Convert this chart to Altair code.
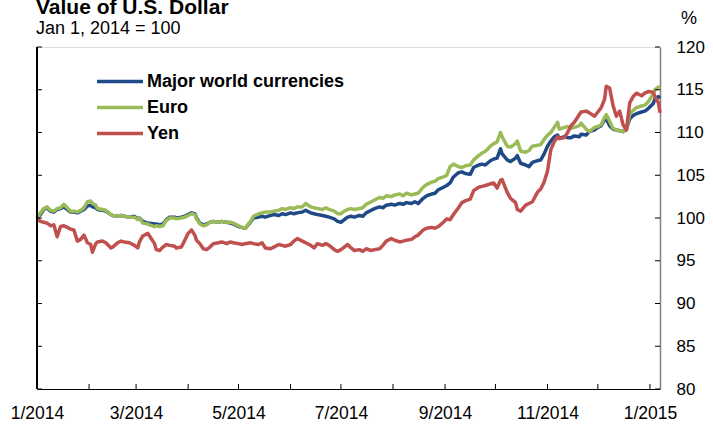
import altair as alt
import pandas as pd

dates = [
    "2014-01-01", "2014-01-03", "2014-01-05", "2014-01-07", "2014-01-09", "2014-01-11", "2014-01-13", "2014-01-15",
    "2014-01-17", "2014-01-19", "2014-01-21", "2014-01-23", "2014-01-25", "2014-01-27", "2014-01-29", "2014-01-31",
    "2014-02-02", "2014-02-03", "2014-02-05", "2014-02-06", "2014-02-09", "2014-02-11", "2014-02-14", "2014-02-15",
    "2014-02-18", "2014-02-20", "2014-02-22", "2014-02-25", "2014-02-28", "2014-03-02", "2014-03-03", "2014-03-05",
    "2014-03-08", "2014-03-09", "2014-03-12", "2014-03-13", "2014-03-15", "2014-03-17", "2014-03-19", "2014-03-21",
    "2014-03-24", "2014-03-25", "2014-03-28", "2014-03-30", "2014-04-01", "2014-04-03", "2014-04-05", "2014-04-06",
    "2014-04-08", "2014-04-10", "2014-04-12", "2014-04-14", "2014-04-16", "2014-04-19", "2014-04-21", "2014-04-24",
    "2014-04-26", "2014-04-28", "2014-05-01", "2014-05-03", "2014-05-05", "2014-05-08", "2014-05-10", "2014-05-13",
    "2014-05-15", "2014-05-17", "2014-05-20", "2014-05-22", "2014-05-25", "2014-05-27", "2014-05-29", "2014-06-01",
    "2014-06-03", "2014-06-05", "2014-06-08", "2014-06-10", "2014-06-13", "2014-06-15", "2014-06-17", "2014-06-20",
    "2014-06-22", "2014-06-24", "2014-06-27", "2014-06-29", "2014-07-01", "2014-07-03", "2014-07-05", "2014-07-07",
    "2014-07-09", "2014-07-12", "2014-07-14", "2014-07-16", "2014-07-19", "2014-07-21", "2014-07-24", "2014-07-26",
    "2014-07-28", "2014-07-31", "2014-08-02", "2014-08-05", "2014-08-07", "2014-08-09", "2014-08-12", "2014-08-14",
    "2014-08-16", "2014-08-19", "2014-08-21", "2014-08-24", "2014-08-26", "2014-08-28", "2014-08-31", "2014-09-02",
    "2014-09-04", "2014-09-06", "2014-09-09", "2014-09-11", "2014-09-13", "2014-09-16", "2014-09-18", "2014-09-21",
    "2014-09-23", "2014-09-25", "2014-09-28", "2014-09-30", "2014-10-02", "2014-10-04", "2014-10-05", "2014-10-08",
    "2014-10-10", "2014-10-13", "2014-10-14", "2014-10-16", "2014-10-19", "2014-10-21", "2014-10-23", "2014-10-26",
    "2014-10-28", "2014-10-30", "2014-11-01", "2014-11-03", "2014-11-05", "2014-11-07", "2014-11-08", "2014-11-11",
    "2014-11-13", "2014-11-15", "2014-11-17", "2014-11-20", "2014-11-21", "2014-11-24", "2014-11-26", "2014-11-29",
    "2014-12-01", "2014-12-03", "2014-12-05", "2014-12-06", "2014-12-08", "2014-12-10", "2014-12-12", "2014-12-14",
    "2014-12-16", "2014-12-18", "2014-12-20", "2014-12-22", "2014-12-24", "2014-12-27", "2014-12-29", "2014-12-31",
    "2015-01-03", "2015-01-04", "2015-01-06", "2015-01-07",
]

major = [
    100.0, 100.4, 101.0, 101.2, 100.8, 100.7, 101.0, 101.1, 101.3, 101.0, 100.7, 100.7, 100.6, 100.8, 101.0, 101.4,
    101.5, 101.3, 101.2, 101.0, 100.9, 100.8, 100.4, 100.3, 100.2, 100.3, 100.2, 100.1, 100.2, 99.9, 100.0, 99.6,
    99.4, 99.4, 99.3, 99.3, 99.2, 99.3, 99.8, 100.1, 100.1, 100.0, 100.1, 100.2, 100.4, 100.6, 100.5, 100.0,
    99.4, 99.2, 99.3, 99.5, 99.6, 99.5, 99.6, 99.5, 99.4, 99.3, 99.0, 98.9, 98.8, 99.5, 100.0, 100.1,
    100.2, 100.1, 100.3, 100.4, 100.3, 100.5, 100.4, 100.6, 100.5, 100.6, 100.7, 100.9, 100.6, 100.5, 100.4, 100.3,
    100.2, 100.1, 99.9, 99.6, 99.5, 99.8, 100.1, 100.2, 100.1, 100.3, 100.2, 100.6, 100.9, 101.1, 101.3, 101.2,
    101.5, 101.6, 101.5, 101.7, 101.6, 101.8, 101.7, 101.9, 101.7, 102.3, 102.6, 102.8, 102.9, 103.3, 103.6, 103.8,
    104.1, 104.8, 105.3, 105.4, 105.2, 105.1, 105.9, 106.2, 106.3, 106.2, 106.7, 106.9, 107.0, 108.1, 107.5, 106.8,
    106.6, 107.0, 107.3, 106.4, 106.2, 106.0, 106.5, 106.7, 106.8, 107.5, 108.4, 109.0, 109.5, 109.7, 109.3, 109.5,
    109.4, 109.4, 109.6, 109.5, 109.8, 109.7, 110.1, 110.3, 110.6, 110.8, 111.5, 111.6, 110.8, 110.4, 110.3, 110.2,
    110.1, 110.4, 111.6, 112.0, 112.2, 112.4, 112.5, 112.8, 113.4, 113.9, 114.2, 114.0,
]

euro = [
    100.0, 100.6, 101.1, 101.3, 100.9, 100.8, 101.1, 101.2, 101.6, 101.2, 100.8, 100.8, 100.7, 100.9, 101.2, 101.9,
    102.0, 101.7, 101.5, 101.1, 101.0, 100.9, 100.4, 100.3, 100.2, 100.3, 100.2, 100.1, 100.1, 99.8, 100.0, 99.4,
    99.3, 99.2, 99.0, 99.1, 99.0, 99.1, 99.7, 100.0, 100.0, 99.9, 100.0, 100.1, 100.3, 100.5, 100.4, 99.9,
    99.3, 99.1, 99.2, 99.5, 99.6, 99.5, 99.6, 99.5, 99.5, 99.4, 99.1, 98.9, 98.8, 99.6, 100.2, 100.5,
    100.6, 100.7, 100.7, 100.8, 100.9, 101.1, 101.0, 101.2, 101.1, 101.3, 101.3, 101.7, 101.3, 101.2, 101.1, 101.0,
    101.2, 101.0, 100.8, 100.5, 100.5, 100.8, 101.0, 101.1, 101.0, 101.1, 101.2, 101.6, 101.9, 102.1, 102.4, 102.3,
    102.6, 102.5, 102.7, 102.8, 102.6, 102.9, 102.7, 102.8, 102.9, 103.6, 103.9, 104.2, 104.3, 104.6, 104.8, 105.0,
    106.0, 106.3, 106.0, 105.9, 106.1, 106.2, 106.8, 107.3, 107.6, 107.8, 108.4, 108.7, 108.9, 110.0, 109.5, 108.4,
    108.3, 108.7, 109.0, 107.8, 107.7, 107.9, 108.4, 108.5, 108.6, 109.2, 109.7, 110.0, 110.6, 111.2, 110.4, 110.6,
    110.7, 110.5, 110.6, 110.8, 111.1, 110.4, 110.1, 110.6, 110.7, 110.9, 111.8, 112.1, 111.3, 110.5, 110.3, 110.2,
    110.1, 110.3, 112.2, 112.6, 112.9, 113.1, 113.2, 113.6, 114.5, 115.0, 115.3, 115.4,
]

yen = [
    100.0, 99.6, 99.5, 99.4, 99.1, 99.2, 97.8, 99.0, 99.1, 98.9, 98.7, 98.6, 97.3, 97.5, 98.0, 97.1,
    96.9, 96.0, 97.0, 97.2, 97.3, 97.1, 96.5, 96.6, 97.1, 97.3, 97.2, 97.1, 96.8, 96.5, 97.2, 97.9,
    98.2, 97.9, 97.0, 96.3, 96.2, 96.6, 96.9, 96.8, 96.7, 96.5, 96.6, 97.4, 98.2, 98.6, 98.0, 97.4,
    97.0, 96.4, 96.3, 96.6, 97.0, 97.1, 97.2, 97.0, 97.2, 97.1, 97.0, 96.9, 97.0, 97.1, 97.0, 96.9,
    97.1, 96.5, 96.4, 96.6, 96.9, 96.8, 96.7, 96.9, 97.3, 97.6, 97.3, 97.1, 96.8, 96.5, 97.0, 96.8,
    97.0, 96.8, 96.3, 96.1, 96.3, 96.6, 96.9, 96.5, 96.2, 96.3, 96.1, 96.4, 96.2, 96.3, 96.4, 96.8,
    97.3, 97.6, 97.4, 97.2, 97.3, 97.4, 97.5, 97.8, 98.0, 98.6, 98.8, 98.9, 98.8, 99.0, 99.5, 99.9,
    99.8, 100.4, 101.2, 101.8, 102.0, 102.2, 103.2, 103.6, 103.7, 103.8, 104.0, 104.1, 103.5, 104.4, 104.5, 103.0,
    102.3, 101.8, 101.0, 100.8, 101.5, 101.7, 101.9, 103.0, 103.4, 104.2, 105.5, 108.0, 108.9, 109.5, 109.3, 109.4,
    110.0, 110.8, 111.2, 112.1, 112.4, 112.5, 112.3, 111.9, 112.4, 112.9, 113.9, 115.4, 115.2, 113.2, 111.9, 112.5,
    110.9, 110.3, 113.5, 114.2, 114.6, 114.3, 114.6, 114.8, 114.7, 114.2, 113.5, 112.3,
]

series_names = ["Major world currencies", "Euro", "Yen"]
series_colors = ["#1F4A87", "#9BBB59", "#C0504D"]
y_ticks = [80, 85, 90, 95, 100, 105, 110, 115, 120]
month_ticks = [(2014, m) for m in range(1, 13)] + [(2015, 1)]

title_text = "Value of U.S. Dollar"
subtitle_text = "Jan 1, 2014 = 100"
unit_text = "%"

W, H = 623, 342
FONT = "Liberation Sans"

rows = []
for name, vals in zip(series_names, [major, euro, yen]):
    for d, v in zip(dates, vals):
        rows.append({"date": d, "series": name, "value": v})
df = pd.DataFrame(rows)

month_df = pd.DataFrame({"date": [f"{y}-{m:02d}-01" for y, m in month_ticks]})
ytick_df = pd.DataFrame({"value": y_ticks})

x_scale = alt.Scale(
    type="utc",
    domain=[alt.DateTime(year=2014, month=1, date=1, utc=True),
            alt.DateTime(year=2015, month=1, date=7, utc=True)],
)
y_scale = alt.Scale(domain=[80, 120], nice=False, zero=False)

x_axis = alt.Axis(
    values=[alt.DateTime(year=y, month=m, date=1, utc=True) for y, m in month_ticks],
    labelExpr="utcmonth(datum.value) % 2 == 0 ? utcFormat(datum.value, '%-m/%Y') : ''",
    ticks=False, tickSize=0, grid=False, labelPadding=15, labelFontSize=17.5,
    labelFont=FONT, labelColor="black", domainColor="black", domainWidth=1,
    labelFlush=False, labelOverlap=False, title=None,
)
y_axis = alt.Axis(
    orient="right", values=y_ticks, ticks=False, tickSize=0, grid=False,
    labelPadding=16, labelFontSize=17, labelFont=FONT, labelColor="black",
    domainColor="#808080", domainWidth=1.5, title=None,
)

lines = alt.Chart(df).mark_line(strokeWidth=3.5, strokeJoin="round").encode(
    x=alt.X("date:T", scale=x_scale, axis=x_axis, title=None),
    y=alt.Y("value:Q", scale=y_scale, axis=y_axis, title=None),
    color=alt.Color(
        "series:N",
        scale=alt.Scale(domain=series_names, range=series_colors),
        sort=series_names,
        legend=alt.Legend(
            title=None, orient="none", legendX=74, legendY=25.5,
            symbolType="M-4,0H4", symbolSize=132, symbolStrokeWidth=3.5,
            labelFontSize=18, labelFont=FONT, labelFontWeight="bold",
            labelColor="black", labelOffset=18, labelLimit=0, rowPadding=8, padding=0,
        ),
    ),
    order=alt.Order("order:Q"),
).transform_calculate(
    order="datum.series == 'Major world currencies' ? 0 : (datum.series == 'Euro' ? 1 : 2)"
)

left_line = alt.Chart(ytick_df).mark_rule(color="black", strokeWidth=1).encode(
    x=alt.value(0), y=alt.value(0), y2=alt.value(H)
)
left_ticks = alt.Chart(ytick_df).mark_rule(color="black", strokeWidth=1).encode(
    y=alt.Y("value:Q", scale=y_scale, title=None), x=alt.value(0), x2=alt.value(5)
)
right_ticks = alt.Chart(ytick_df).mark_rule(color="black", strokeWidth=1).encode(
    y=alt.Y("value:Q", scale=y_scale, title=None), x=alt.value(W - 5), x2=alt.value(W)
)
bottom_ticks = alt.Chart(month_df).mark_rule(color="black", strokeWidth=1).encode(
    x=alt.X("date:T", scale=x_scale, title=None), y=alt.value(H - 5), y2=alt.value(H)
)

title = alt.Chart(pd.DataFrame({"t": [title_text]})).mark_text(
    font=FONT, fontSize=21, fontWeight="bold", align="left", baseline="alphabetic", color="black"
).encode(text="t:N", x=alt.value(-1), y=alt.value(-33.5))
subtitle = alt.Chart(pd.DataFrame({"t": [subtitle_text]})).mark_text(
    font=FONT, fontSize=18, align="left", baseline="alphabetic", color="black"
).encode(text="t:N", x=alt.value(-1), y=alt.value(-12.7))
unit = alt.Chart(pd.DataFrame({"t": [unit_text]})).mark_text(
    font=FONT, fontSize=18, align="left", baseline="alphabetic", color="black"
).encode(text="t:N", x=alt.value(W + 21), y=alt.value(-23))

chart = alt.layer(
    lines, left_line, left_ticks, right_ticks, bottom_ticks, title, subtitle, unit
).properties(
    width=W, height=H,
    autosize=alt.AutoSizeParams(type="none"),
    padding={"left": 37, "top": 47, "right": 53, "bottom": 39},
).configure_view(stroke=None).configure(font=FONT)

chart.save("out.html", embed_options={"renderer": "svg", "actions": False})
